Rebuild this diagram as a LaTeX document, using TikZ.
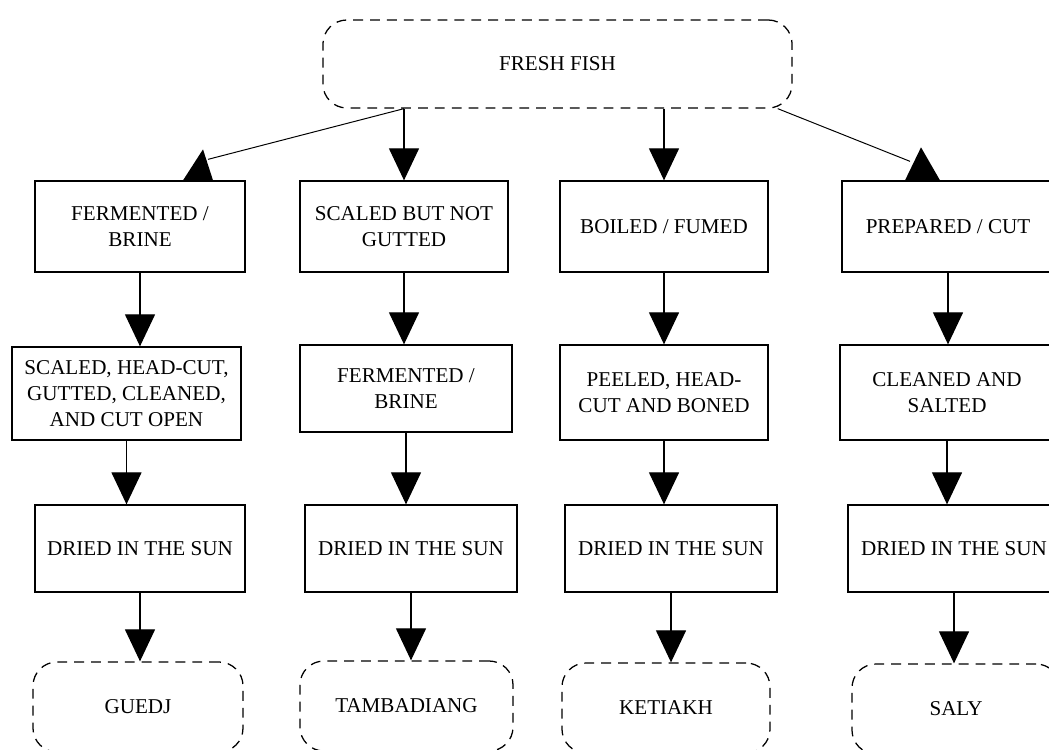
\documentclass[tikz,border=0pt]{standalone}
\usepackage{fontspec}
\setmainfont{Liberation Serif}
\usetikzlibrary{arrows.meta,calc}
\begin{document}
\begin{tikzpicture}[x=0.025cm,y=-0.025cm,
  txt/.style={align=center,font=\fontsize{15}{18.5}\selectfont,inner sep=2pt},
  stepbox/.style={txt,draw,line width=0.9pt,minimum height=2.275cm},
  endbox/.style={txt,draw,line width=0.9pt,dash pattern=on 7pt off 5pt,rounded corners=0.6cm,minimum height=2.25cm},
  arr/.style={line width=0.9pt,-{Triangle[width=0.75cm,length=0.8cm]}},
  link/.style={line width=0.7pt}]
\useasboundingbox (0,0) rectangle (1049,749);
\clip (0,0) rectangle (1049,749);

% source
\node[endbox,minimum width=11.725cm,minimum height=2.2cm] (F) at (557.5,64) {FRESH FISH};

% first treatment
\node[stepbox,minimum width=5.25cm] (A1) at (140,226.5) {FERMENTED /\\BRINE};
\node[stepbox,minimum width=5.2cm]  (B1) at (404,226.5) {SCALED BUT NOT\\GUTTED};
\node[stepbox,minimum width=5.2cm]  (C1) at (664,226.5) {BOILED / FUMED};
\node[stepbox,minimum width=5.3cm]  (D1) at (948,226.5) {PREPARED / CUT};

% second treatment
\node[stepbox,minimum width=5.725cm,minimum height=2.325cm] (A2) at (126.5,393.5) {SCALED, HEAD-CUT,\\GUTTED, CLEANED,\\AND CUT OPEN};
\node[stepbox,minimum width=5.3cm,minimum height=2.175cm]   (B2) at (406,388.5) {FERMENTED /\\BRINE};
\node[stepbox,minimum width=5.2cm,minimum height=2.375cm]   (C2) at (664,392.5) {PEELED, HEAD-\\CUT AND BONED};
\node[stepbox,minimum width=5.35cm,minimum height=2.375cm]  (D2) at (947,392.5) {CLEANED AND\\SALTED};

% drying
\node[stepbox,minimum width=5.25cm,minimum height=2.175cm] (A3) at (140,548.5) {DRIED IN THE SUN};
\node[stepbox,minimum width=5.3cm,minimum height=2.175cm]  (B3) at (411,548.5) {DRIED IN THE SUN};
\node[stepbox,minimum width=5.3cm,minimum height=2.175cm]  (C3) at (671,548.5) {DRIED IN THE SUN};
\node[stepbox,minimum width=5.3cm,minimum height=2.175cm]  (D3) at (954,548.5) {DRIED IN THE SUN};

% products
\node[endbox,minimum width=5.25cm]  (A4) at (138,707) {GUEDJ};
\node[endbox,minimum width=5.325cm] (B4) at (406.5,706) {TAMBADIANG};
\node[endbox,minimum width=5.2cm]   (C4) at (666,708) {KETIAKH};
\node[endbox,minimum width=5.2cm]   (D4) at (956,709) {SALY};

% branches out of the source
\draw[arr] (B1.north |- F.south) -- (B1.north);
\draw[arr] (C1.north |- F.south) -- (C1.north);

\coordinate (lend) at ($(A1.north)+(68,-21)$);
\draw[link] (B1.north |- F.south) -- (lend);
\fill ($(A1.north)+(43,0)$) -- ($(A1.north)+(63,-31)$) -- ($(A1.north)+(73,0)$) -- cycle;

\coordinate (rend) at ($(D1.north)+(-38,-19)$);
\draw[link] ($(F.south east)+(-15,0)$) -- (rend);
\fill ($(D1.north)+(-43,0)$) -- ($(D1.north)+(-27,-33)$) -- ($(D1.north)+(-8,0)$) -- cycle;

% column flows
\foreach \c in {A,B,C,D}{
  \draw[arr] (\c1.south) -- (\c1.south |- \c2.north);
  \draw[arr] (\c2.south) -- (\c2.south |- \c3.north);
  \draw[arr] (\c3.south) -- (\c3.south |- \c4.north);
}
\end{tikzpicture}
\end{document}
